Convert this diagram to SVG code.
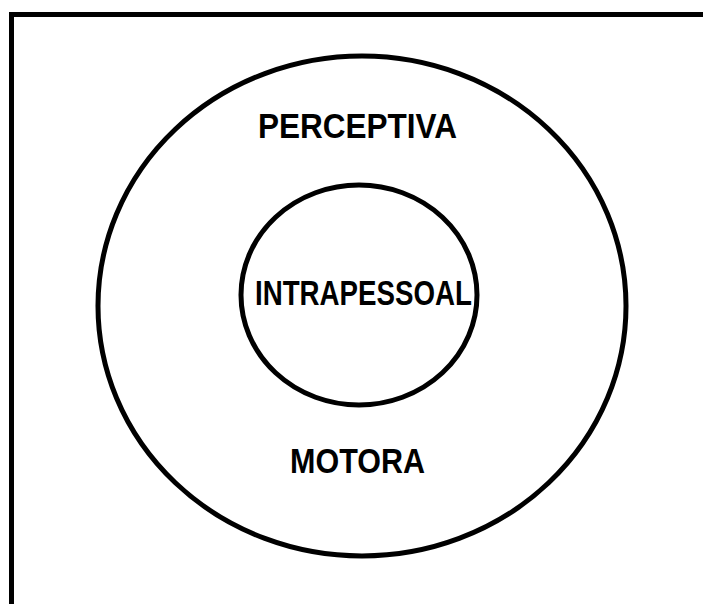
<svg xmlns="http://www.w3.org/2000/svg" width="703" height="604" viewBox="0 0 703 604">
<style>
.shape{fill:none;stroke:#000;stroke-width:5}
.lbl{font-family:"Liberation Sans",Arial,sans-serif;font-weight:bold;font-size:35px;fill:#000}
</style>
<rect x="0" y="0" width="703" height="604" fill="#fff"/>
<g id="frame"><rect class="shape" x="11.5" y="14.5" width="720" height="620"/></g>
<g id="motora-perceptiva">
<ellipse class="shape" cx="362" cy="306" rx="264" ry="250"/>
<text class="lbl" x="258" y="138" textLength="199" lengthAdjust="spacingAndGlyphs">PERCEPTIVA</text>
<text class="lbl" x="290" y="473" textLength="135" lengthAdjust="spacingAndGlyphs">MOTORA</text>
</g>
<g id="intrapessoal">
<ellipse class="shape" cx="359" cy="295" rx="118" ry="110"/>
<text class="lbl" x="255" y="305" textLength="217" lengthAdjust="spacingAndGlyphs">INTRAPESSOAL</text>
</g>
<g id="connectors"></g>
</svg>
